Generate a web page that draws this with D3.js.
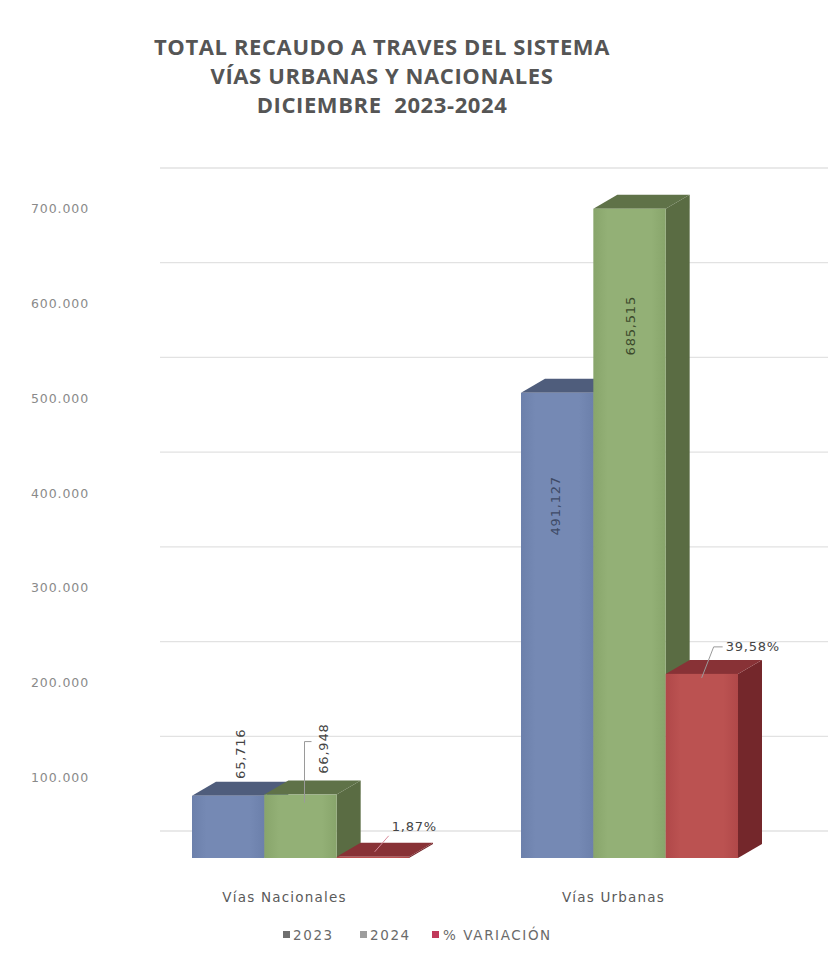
<!DOCTYPE html>
<html>
<head>
<meta charset="utf-8">
<script src="https://cdn.jsdelivr.net/npm/d3@7"></script>
<style>
  html, body { margin: 0; padding: 0; background: #ffffff; }
  svg { display: block; }
</style>
</head>
<body>
<svg id="chart" width="828" height="980"></svg>
<script>
// ---------------- DATA ----------------
const titleLines = ["TOTAL RECAUDO A TRAVES DEL SISTEMA", "VÍAS URBANAS Y NACIONALES", "DICIEMBRE  2023-2024"];
const categories = ["Vías Nacionales", "Vías Urbanas"];
const seriesNames = ["2023", "2024", "% VARIACIÓN"];
const values2023 = [65716, 491127];
const values2024 = [66948, 685515];
const variationBar = [1232, 194388];          // height of the red bar (difference)
const variationLabel = ["1,87%", "39,58%"];
const label2023 = ["65,716", "491,127"];
const label2024 = ["66,948", "685,515"];
const yTicks = [100000, 200000, 300000, 400000, 500000, 600000, 700000];
const yTickLabels = ["100.000", "200.000", "300.000", "400.000", "500.000", "600.000", "700.000"];

// ---------------- SETUP ----------------
const svg = d3.select("#chart");
const W = 828, H = 980;
const depthX = 24, depthY = -14;   // 3D depth of bars
const wallOffset = -27;            // back wall gridline offset

const y = d3.scaleLinear().domain([0, 700000]).range([858, 195]);
const x0 = d3.scaleBand().domain(categories).range([136, 794]).padding(0);
const x1 = d3.scaleBand().domain(seriesNames).range([56, 273]).padding(0);

const colors = {
  "2023": { front: "#6c80ab", inner: "#7589b4", top: "#4f5d7c", side: "#485775" },
  "2024": { front: "#88a56b", inner: "#93b076", top: "#5f7248", side: "#5a6c43" },
  "% VARIACIÓN": { front: "#b04849", inner: "#bb5251", top: "#883236", side: "#74272b" }
};
const legendColors = ["#6f6f6f", "#9d9d9d", "#c0395a"];

// ---------------- TITLE ----------------
svg.append("g").selectAll("text").data(titleLines).join("text")
  .attr("x", 382).attr("y", (d, i) => 55 + i * 29)
  .attr("text-anchor", "middle")
  .attr("font-family", "'Open Sans', sans-serif")
  .attr("font-weight", "bold")
  .attr("font-size", 22)
  .attr("letter-spacing", 0.6)
  .attr("fill", "#555555")
  .attr("xml:space", "preserve")
  .text(d => d);

// ---------------- GRIDLINES (back wall) ----------------
svg.append("g").selectAll("line").data([0].concat(yTicks)).join("line")
  .attr("x1", 160).attr("x2", W)
  .attr("y1", d => y(d) + wallOffset).attr("y2", d => y(d) + wallOffset)
  .attr("stroke", "#e2e2e2").attr("stroke-width", 1.3);

// ---------------- Y TICK LABELS ----------------
svg.append("g").selectAll("text").data(yTicks).join("text")
  .attr("x", 89).attr("y", d => y(d) + 14)
  .attr("dy", "0.35em")
  .attr("text-anchor", "end")
  .attr("font-family", "'DejaVu Sans', sans-serif")
  .attr("font-size", 12.5)
  .attr("letter-spacing", 0.9)
  .attr("fill", "#8a8a8a")
  .text((d, i) => yTickLabels[i]);

// ---------------- BARS ----------------
const rows = [];
categories.forEach((c, i) => {
  rows.push({ cat: c, s: "2023", v: values2023[i] });
  rows.push({ cat: c, s: "2024", v: values2024[i] });
  rows.push({ cat: c, s: "% VARIACIÓN", v: variationBar[i] });
});

const defs = svg.append("defs");
seriesNames.forEach((s, k) => {
  const g = defs.append("linearGradient").attr("id", "grad" + k)
    .attr("x1", "0%").attr("x2", "100%").attr("y1", "0%").attr("y2", "0%");
  g.append("stop").attr("offset", "0%").attr("stop-color", colors[s].front);
  g.append("stop").attr("offset", "20%").attr("stop-color", colors[s].inner);
  g.append("stop").attr("offset", "80%").attr("stop-color", colors[s].inner);
  g.append("stop").attr("offset", "100%").attr("stop-color", colors[s].front);
});

const barG = svg.append("g");
rows.forEach(r => {
  const bx = x0(r.cat) + x1(r.s);
  const bw = x1.bandwidth();
  const yt = y(r.v), yb = y(0);
  const c = colors[r.s];
  const k = seriesNames.indexOf(r.s);
  const g = barG.append("g");
  g.append("path")
    .attr("d", `M${bx + bw},${yt} L${bx + bw + depthX},${yt + depthY} L${bx + bw + depthX},${yb + depthY} L${bx + bw},${yb} Z`)
    .attr("fill", c.side);
  g.append("path")
    .attr("d", `M${bx},${yt} L${bx + depthX},${yt + depthY} L${bx + bw + depthX},${yt + depthY} L${bx + bw},${yt} Z`)
    .attr("fill", c.top);
  g.append("rect")
    .attr("x", bx).attr("y", yt)
    .attr("width", bw).attr("height", Math.max(yb - yt, 0.8))
    .attr("fill", `url(#grad${k})`);
});

// ---------------- DATA LABELS ----------------
const lblFont = "'DejaVu Sans', sans-serif";
function vlabel(text, cx, cy, color) {
  svg.append("text")
    .attr("transform", `translate(${cx},${cy}) rotate(-90)`)
    .attr("text-anchor", "middle").attr("dy", "0.35em")
    .attr("font-family", lblFont).attr("font-size", 13)
    .attr("letter-spacing", 0.8)
    .attr("fill", color).text(text);
}
function hlabel(text, lx, ly) {
  svg.append("text")
    .attr("x", lx).attr("y", ly)
    .attr("dy", "0.35em")
    .attr("font-family", lblFont).attr("font-size", 13).attr("letter-spacing", 0.8)
    .attr("fill", "#444").text(text);
}
// Vías Nacionales
{
  const c = categories[0];
  const bw = x1.bandwidth();
  const bx23 = x0(c) + x1("2023"), bx24 = x0(c) + x1("2024"), bxv = x0(c) + x1("% VARIACIÓN");
  vlabel(label2023[0], bx23 + bw / 2 + 12, y(values2023[0]) - 42, "#444");
  vlabel(label2024[0], bx24 + bw / 2 + 23, y(values2024[0]) - 46, "#444");
  const lx = bx24 + bw / 2 + 4;
  svg.append("path")
    .attr("d", `M${lx + 7},${y(values2024[0]) - 53} L${lx},${y(values2024[0]) - 53} L${lx},${y(values2024[0]) + 8}`)
    .attr("fill", "none").attr("stroke", "#9a9a9a").attr("stroke-width", 1);
  hlabel(variationLabel[0], bxv + 55, y(variationBar[0]) - 30);
  svg.append("path")
    .attr("d", `M${bxv + 52},${y(variationBar[0]) - 21} L${bxv + 38},${y(variationBar[0]) - 5}`)
    .attr("fill", "none").attr("stroke", "#d88a9a").attr("stroke-width", 1);
}
// Vías Urbanas
{
  const c = categories[1];
  const bw = x1.bandwidth();
  const bx23 = x0(c) + x1("2023"), bx24 = x0(c) + x1("2024"), bxv = x0(c) + x1("% VARIACIÓN");
  vlabel(label2023[1], bx23 + bw / 2 - 2, y(values2023[1]) + 113, "#3e4a66");
  vlabel(label2024[1], bx24 + bw / 2 + 1, y(values2024[1]) + 117, "#3c4a2c");
  hlabel(variationLabel[1], bxv + 60, y(variationBar[1]) - 27);
  svg.append("path")
    .attr("d", `M${bxv + 57},${y(variationBar[1]) - 27} L${bxv + 48},${y(variationBar[1]) - 27} L${bxv + 36},${y(variationBar[1]) + 4}`)
    .attr("fill", "none").attr("stroke", "#9a9a9a").attr("stroke-width", 1);
}

// ---------------- CATEGORY LABELS ----------------
svg.append("g").selectAll("text").data(categories).join("text")
  .attr("x", d => x0(d) + x0.bandwidth() / 2 - 16)
  .attr("y", 897)
  .attr("dy", "0.35em")
  .attr("text-anchor", "middle")
  .attr("font-family", "'DejaVu Sans', sans-serif")
  .attr("font-size", 13.5)
  .attr("letter-spacing", 1.2)
  .attr("fill", "#5a5a5a")
  .text(d => d);

// ---------------- LEGEND ----------------
const legendX = [283, 360, 432];
const lg = svg.append("g");
seriesNames.forEach((s, i) => {
  lg.append("rect").attr("x", legendX[i]).attr("y", 931).attr("width", 7).attr("height", 7)
    .attr("fill", legendColors[i]);
  lg.append("text").attr("x", legendX[i] + (i === 2 ? 11 : 10)).attr("y", 935)
    .attr("dy", "0.35em")
    .attr("font-family", "'DejaVu Sans', sans-serif")
    .attr("font-size", 13.5).attr("letter-spacing", 1.6)
    .attr("fill", "#6a6a6a").text(s);
});
</script>
</body>
</html>
